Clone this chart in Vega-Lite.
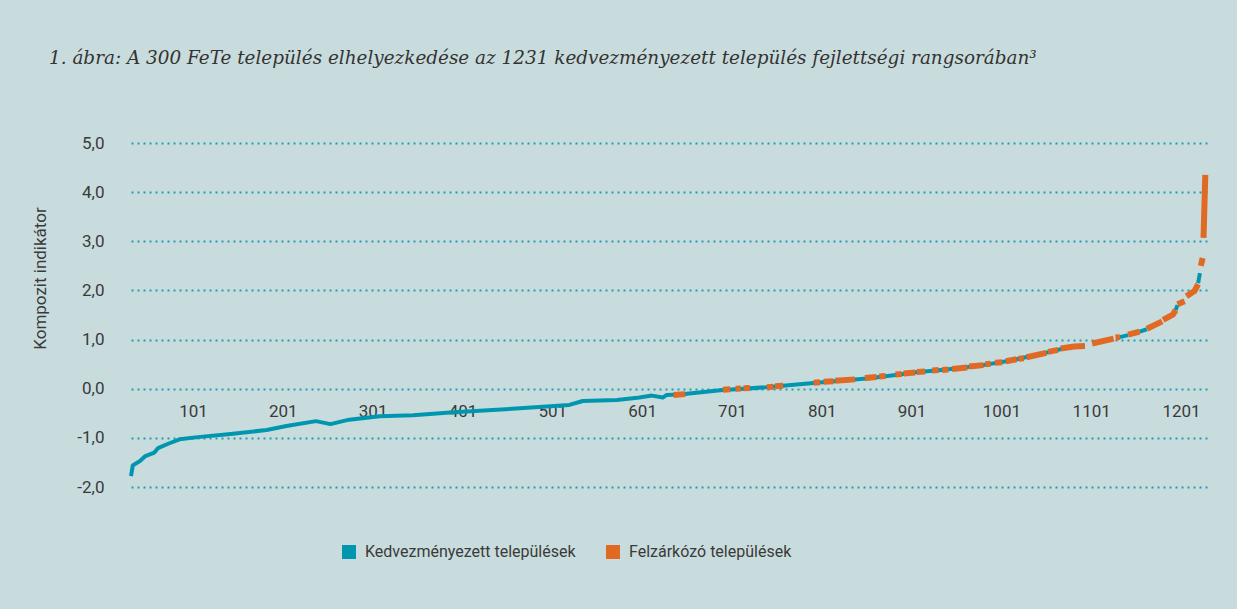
{
  "$schema": "https://vega.github.io/schema/vega-lite/v6.json",
  "width": 1077,
  "height": 344,
  "autosize": {"type": "none"},
  "padding": {"left": 131, "top": 143, "right": 29, "bottom": 122},
  "background": "#c9dcdd",
  "title": {
    "text": "1. ábra: A 300 FeTe település elhelyezkedése az 1231 kedvezményezett település fejlettségi rangsorában³",
    "anchor": "start",
    "frame": "group",
    "orient": "top",
    "dx": -82,
    "offset": 52,
    "baseline": "alphabetic",
    "font": "DejaVu Serif",
    "fontStyle": "italic",
    "fontWeight": "normal",
    "fontSize": 18.4,
    "color": "#333333",
    "limit": 1200
  },
  "datasets": {
    "kedv": [
      {"rank": 32, "value": -1.78, "seg": "a"},
      {"rank": 34, "value": -1.56, "seg": "a"},
      {"rank": 42, "value": -1.47, "seg": "a"},
      {"rank": 48, "value": -1.37, "seg": "a"},
      {"rank": 58, "value": -1.30, "seg": "a"},
      {"rank": 62, "value": -1.21, "seg": "a"},
      {"rank": 72, "value": -1.13, "seg": "a"},
      {"rank": 86, "value": -1.03, "seg": "a"},
      {"rank": 109, "value": -0.98, "seg": "a"},
      {"rank": 143, "value": -0.92, "seg": "a"},
      {"rank": 183, "value": -0.84, "seg": "a"},
      {"rank": 205, "value": -0.76, "seg": "a"},
      {"rank": 238, "value": -0.66, "seg": "a"},
      {"rank": 254, "value": -0.72, "seg": "a"},
      {"rank": 275, "value": -0.63, "seg": "a"},
      {"rank": 309, "value": -0.56, "seg": "a"},
      {"rank": 346, "value": -0.54, "seg": "a"},
      {"rank": 391, "value": -0.48, "seg": "a"},
      {"rank": 465, "value": -0.40, "seg": "a"},
      {"rank": 520, "value": -0.33, "seg": "a"},
      {"rank": 535, "value": -0.25, "seg": "a"},
      {"rank": 573, "value": -0.23, "seg": "a"},
      {"rank": 598, "value": -0.18, "seg": "a"},
      {"rank": 612, "value": -0.14, "seg": "a"},
      {"rank": 624, "value": -0.18, "seg": "a"},
      {"rank": 628, "value": -0.13, "seg": "a"},
      {"rank": 643, "value": -0.12, "seg": "a"},
      {"rank": 688, "value": -0.03, "seg": "a"},
      {"rank": 739, "value": 0.03, "seg": "a"},
      {"rank": 795, "value": 0.12, "seg": "a"},
      {"rank": 851, "value": 0.21, "seg": "a"},
      {"rank": 888, "value": 0.29, "seg": "a"},
      {"rank": 903, "value": 0.33, "seg": "a"},
      {"rank": 940, "value": 0.39, "seg": "a"},
      {"rank": 977, "value": 0.47, "seg": "a"},
      {"rank": 1013, "value": 0.58, "seg": "a"},
      {"rank": 1050, "value": 0.73, "seg": "a"},
      {"rank": 1077, "value": 0.85, "seg": "a"},
      {"rank": 1094, "value": 0.87, "seg": "a"},
      {"rank": 1133, "value": 1.05, "seg": "b"},
      {"rank": 1142, "value": 1.09, "seg": "b"},
      {"rank": 1155, "value": 1.16, "seg": "c"},
      {"rank": 1163, "value": 1.21, "seg": "c"},
      {"rank": 1195, "value": 1.60, "seg": "d"},
      {"rank": 1197, "value": 1.70, "seg": "d"},
      {"rank": 1220, "value": 2.15, "seg": "e"},
      {"rank": 1222, "value": 2.35, "seg": "e"}
    ],
    "fete": [
      {"rank": 636, "value": -0.13, "seg": "o1"},
      {"rank": 649, "value": -0.11, "seg": "o1"},
      {"rank": 691, "value": -0.02, "seg": "o2"},
      {"rank": 699, "value": -0.01, "seg": "o2"},
      {"rank": 705, "value": 0.0, "seg": "o3"},
      {"rank": 711, "value": 0.005, "seg": "o3"},
      {"rank": 714, "value": 0.01, "seg": "o4"},
      {"rank": 721, "value": 0.015, "seg": "o4"},
      {"rank": 740, "value": 0.03, "seg": "o5"},
      {"rank": 747, "value": 0.04, "seg": "o5"},
      {"rank": 749, "value": 0.05, "seg": "o6"},
      {"rank": 758, "value": 0.06, "seg": "o6"},
      {"rank": 792, "value": 0.12, "seg": "o7"},
      {"rank": 799, "value": 0.13, "seg": "o7"},
      {"rank": 803, "value": 0.14, "seg": "o8"},
      {"rank": 814, "value": 0.15, "seg": "o8"},
      {"rank": 816, "value": 0.16, "seg": "o9"},
      {"rank": 838, "value": 0.19, "seg": "o9"},
      {"rank": 849, "value": 0.22, "seg": "o10"},
      {"rank": 862, "value": 0.24, "seg": "o10"},
      {"rank": 865, "value": 0.25, "seg": "o11"},
      {"rank": 872, "value": 0.26, "seg": "o11"},
      {"rank": 883, "value": 0.29, "seg": "o12"},
      {"rank": 890, "value": 0.30, "seg": "o12"},
      {"rank": 892, "value": 0.31, "seg": "o13"},
      {"rank": 905, "value": 0.33, "seg": "o13"},
      {"rank": 907, "value": 0.34, "seg": "o14"},
      {"rank": 916, "value": 0.35, "seg": "o14"},
      {"rank": 924, "value": 0.37, "seg": "o15"},
      {"rank": 931, "value": 0.38, "seg": "o15"},
      {"rank": 935, "value": 0.38, "seg": "o16"},
      {"rank": 942, "value": 0.39, "seg": "o16"},
      {"rank": 946, "value": 0.40, "seg": "o17"},
      {"rank": 963, "value": 0.43, "seg": "o17"},
      {"rank": 965, "value": 0.45, "seg": "o18"},
      {"rank": 981, "value": 0.48, "seg": "o18"},
      {"rank": 983, "value": 0.50, "seg": "o19"},
      {"rank": 989, "value": 0.51, "seg": "o19"},
      {"rank": 994, "value": 0.53, "seg": "o20"},
      {"rank": 1002, "value": 0.54, "seg": "o20"},
      {"rank": 1006, "value": 0.56, "seg": "o21"},
      {"rank": 1018, "value": 0.60, "seg": "o21"},
      {"rank": 1020, "value": 0.61, "seg": "o22"},
      {"rank": 1026, "value": 0.62, "seg": "o22"},
      {"rank": 1029, "value": 0.64, "seg": "o23"},
      {"rank": 1051, "value": 0.73, "seg": "o23"},
      {"rank": 1053, "value": 0.75, "seg": "o24"},
      {"rank": 1064, "value": 0.79, "seg": "o24"},
      {"rank": 1067, "value": 0.82, "seg": "o25"},
      {"rank": 1082, "value": 0.86, "seg": "o25"},
      {"rank": 1094, "value": 0.87, "seg": "o25"},
      {"rank": 1102, "value": 0.92, "seg": "o26"},
      {"rank": 1126, "value": 1.02, "seg": "o26"},
      {"rank": 1128, "value": 1.04, "seg": "o27"},
      {"rank": 1133, "value": 1.05, "seg": "o27"},
      {"rank": 1142, "value": 1.10, "seg": "o28"},
      {"rank": 1155, "value": 1.16, "seg": "o28"},
      {"rank": 1163, "value": 1.22, "seg": "o29"},
      {"rank": 1180, "value": 1.37, "seg": "o29"},
      {"rank": 1181, "value": 1.40, "seg": "o30"},
      {"rank": 1192, "value": 1.51, "seg": "o30"},
      {"rank": 1195, "value": 1.60, "seg": "o30"},
      {"rank": 1197, "value": 1.72, "seg": "o31"},
      {"rank": 1205, "value": 1.78, "seg": "o31"},
      {"rank": 1207, "value": 1.88, "seg": "o32"},
      {"rank": 1216, "value": 1.99, "seg": "o32"},
      {"rank": 1220, "value": 2.13, "seg": "o32"},
      {"rank": 1223, "value": 2.50, "seg": "o33"},
      {"rank": 1225, "value": 2.66, "seg": "o33"},
      {"rank": 1226, "value": 3.07, "seg": "o34"},
      {"rank": 1228, "value": 4.35, "seg": "o34"}
    ]
  },
  "layer": [
    {
      "data": {"name": "kedv"},
      "mark": {"type": "line", "strokeWidth": 4, "strokeJoin": "round", "strokeCap": "butt"},
      "encoding": {
        "x": {
          "field": "rank", "type": "quantitative",
          "scale": {"domain": [32, 1231], "nice": false, "zero": false},
          "axis": {
            "title": null,
            "values": [101, 201, 301, 401, 501, 601, 701, 801, 901, 1001, 1101, 1201],
            "format": "d",
            "offset": -98,
            "domain": false, "ticks": false, "grid": false,
            "labelPadding": 14,
            "labelOverlap": false, "labelFlush": false,
            "labelFont": "Roboto", "labelFontSize": 17, "labelColor": "#3a3a3a"
          }
        },
        "y": {
          "field": "value", "type": "quantitative",
          "scale": {"domain": [-2, 5], "nice": false, "zero": false},
          "axis": {
            "title": "Kompozit indikátor",
            "values": [-2, -1, 0, 1, 2, 3, 4, 5],
            "labelExpr": "replace(replace(format(datum.value, '.1f'), '.', ','), '\u2212', '-')",
            "domain": false, "ticks": false,
            "grid": true, "gridDash": [2, 4], "gridColor": "#1f9db5", "gridWidth": 2,
            "labelPadding": 27,
            "labelFont": "Roboto", "labelFontSize": 17, "labelColor": "#3a3a3a",
            "titleFont": "Roboto", "titleFontSize": 17, "titleFontWeight": "normal", "titleColor": "#3a3a3a",
            "titleX": -91, "titleY": 135, "titleAngle": -90, "titleAlign": "center", "titleBaseline": "middle"
          }
        },
        "color": {
          "datum": "Kedvezményezett települések",
          "scale": {"domain": ["Kedvezményezett települések", "Felzárkózó települések"], "range": ["#0096b0", "#e06a24"]},
          "legend": {
            "title": null,
            "orient": "none",
            "legendX": 210,
            "legendY": 401,
            "direction": "horizontal",
            "symbolType": "square",
            "symbolSize": 16,
            "symbolStrokeWidth": 10,
            "labelFont": "Roboto",
            "labelFontSize": 16,
            "labelColor": "#3a3a3a",
            "labelOffset": 8,
            "labelLimit": 400,
            "columnPadding": 15
          }
        },
        "detail": {"field": "seg", "type": "nominal"}
      }
    },
    {
      "data": {"name": "fete"},
      "mark": {"type": "line", "strokeWidth": 6, "strokeCap": "butt", "strokeJoin": "miter"},
      "encoding": {
        "x": {"field": "rank", "type": "quantitative"},
        "y": {"field": "value", "type": "quantitative"},
        "color": {"datum": "Felzárkózó települések"},
        "detail": {"field": "seg", "type": "nominal"}
      }
    }
  ],
  "config": {
    "view": {"stroke": null},
    "font": "Roboto"
  }
}
